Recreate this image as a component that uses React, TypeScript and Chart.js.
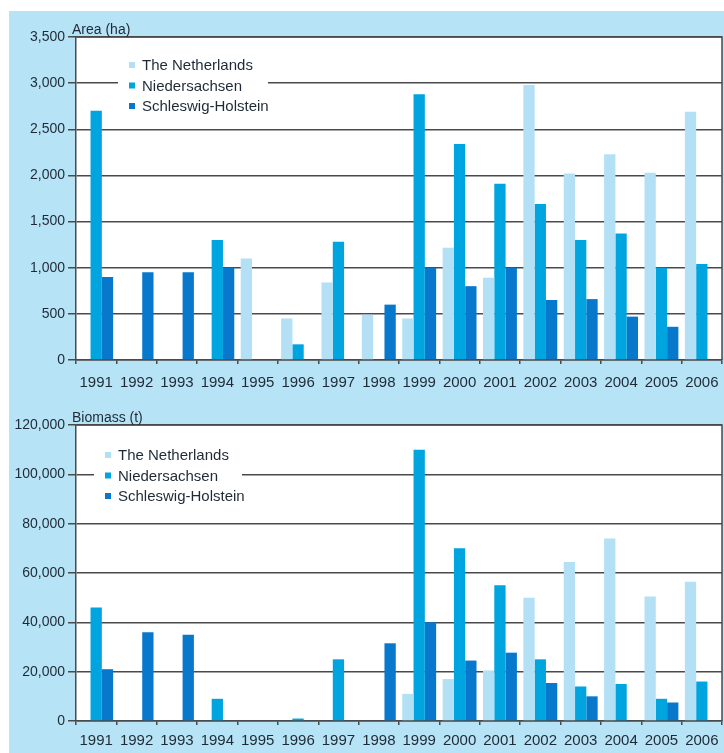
import React, { useEffect, useRef } from "react";
import { Chart, registerables } from "chart.js";

Chart.register(...registerables);

const years = ["1991","1992","1993","1994","1995","1996","1997","1998","1999","2000","2001","2002","2003","2004","2005","2006"];
const seriesNames = ["The Netherlands", "Niedersachsen", "Schleswig-Holstein"];

const areaNL = [null, null, null, null, 1100, 450, 840, 490, 450, 1215, 890, 2980, 2020, 2230, 2030, 2690];
const areaNI = [2700, null, null, 1300, null, 170, 1280, null, 2880, 2340, 1910, 1690, 1300, 1370, 1000, 1040];
const areaSH = [900, 950, 950, 1000, null, null, null, 600, 1000, 800, 1000, 650, 660, 470, 360, null];

const bioNL = [null, null, null, null, null, null, null, null, 11000, 17000, 20500, 50000, 64500, 74000, 50500, 56500];
const bioNI = [46000, null, null, 9000, null, 1000, 25000, null, 110000, 70000, 55000, 25000, 14000, 15000, 9000, 16000];
const bioSH = [21000, 36000, 35000, null, null, null, null, 31500, 40000, 24500, 27700, 15400, 10000, null, 7500, null];

const areaTicks = [0, 500, 1000, 1500, 2000, 2500, 3000, 3500];
const bioTicks = [0, 20000, 40000, 60000, 80000, 100000, 120000];

const COLORS = ["#b3e0f4", "#00a5e0", "#0878cc"];
const BG = "#b6e3f5";
const GRID = "#4a4a4a";
const TEXT = "#1f2a36";
const FONT = "'Liberation Sans', Arial, sans-serif";

type Cfg = {
  nl: (number | null)[];
  ni: (number | null)[];
  sh: (number | null)[];
  ticks: number[];
  title: string;
  height: number;
  padTop: number;
  xHeight: number;
  xPad: number;
  legendX: number;
  legendY: number;
  legendW: number;
};

function BarChart({ cfg }: { cfg: Cfg }) {
  const ref = useRef<HTMLCanvasElement | null>(null);
  useEffect(() => {
    if (!ref.current) return;
    const max = cfg.ticks[cfg.ticks.length - 1];
    const step = cfg.ticks[1] - cfg.ticks[0];
    const framePlugin = {
      id: "frame",
      beforeDraw(chart: any) {
        const { ctx, chartArea: a } = chart;
        ctx.save();
        ctx.fillStyle = "#ffffff";
        ctx.fillRect(a.left, a.top, a.right - a.left, a.bottom - a.top);
        ctx.restore();
      },
      afterDraw(chart: any) {
        const { ctx, chartArea: a } = chart;
        ctx.save();
        ctx.strokeStyle = GRID;
        ctx.lineWidth = 1.5;
        ctx.beginPath();
        ctx.moveTo(a.left, a.top);
        ctx.lineTo(a.right, a.top);
        ctx.lineTo(a.right, a.bottom);
        ctx.stroke();
        ctx.fillStyle = TEXT;
        ctx.font = `14px ${FONT}`;
        ctx.textBaseline = "alphabetic";
        ctx.textAlign = "left";
        ctx.fillText(cfg.title, a.left - 4, a.top - 3);
        const lx = cfg.legendX;
        const ly = cfg.legendY;
        ctx.fillStyle = "#ffffff";
        ctx.fillRect(lx, ly, cfg.legendW, 62);
        seriesNames.forEach((n, i) => {
          const cy = ly + 10 + i * 20.5;
          ctx.fillStyle = COLORS[i];
          ctx.fillRect(lx + 11, cy - 3, 6, 6);
          ctx.fillStyle = TEXT;
          ctx.font = `15px ${FONT}`;
          ctx.textBaseline = "middle";
          ctx.fillText(n, lx + 24, cy + 1);
        });
        ctx.restore();
      },
    };
    const chart = new Chart(ref.current, {
      type: "bar",
      data: {
        labels: years,
        datasets: [
          { label: seriesNames[0], data: cfg.nl, backgroundColor: COLORS[0] },
          { label: seriesNames[1], data: cfg.ni, backgroundColor: COLORS[1] },
          { label: seriesNames[2], data: cfg.sh, backgroundColor: COLORS[2] },
        ],
      },
      options: {
        animation: false,
        responsive: false,
        maintainAspectRatio: false,
        layout: { padding: { top: cfg.padTop, right: 2, left: 0, bottom: 0 } },
        datasets: { bar: { barPercentage: 1.0, categoryPercentage: 0.84 } },
        plugins: { legend: { display: false }, tooltip: { enabled: false }, title: { display: false } },
        scales: {
          x: {
            offset: true,
            grid: { display: true, drawOnChartArea: false, drawTicks: true, tickLength: 4, color: GRID, lineWidth: 1.5, offset: true },
            border: { display: true, color: GRID, width: 1.5 },
            ticks: { color: TEXT, font: { family: FONT, size: 15 }, padding: cfg.xPad, maxRotation: 0, autoSkip: false },
            afterFit: (s: any) => { s.height = cfg.xHeight; s.paddingLeft = 0; s.paddingRight = 0; },
          },
          y: {
            min: 0,
            max,
            afterBuildTicks: (s: any) => { s.ticks = cfg.ticks.map((v) => ({ value: v })); },
            ticks: {
              stepSize: step,
              color: TEXT,
              font: { family: FONT, size: 14 },
              padding: 3,
              callback: (v: any) => Number(v).toLocaleString("en-US"),
            },
            grid: { color: GRID, lineWidth: 1.5, tickLength: 8, drawTicks: true },
            border: { display: true, color: GRID, width: 1.5 },
            afterFit: (s: any) => { s.width = 76; s.paddingTop = 0; s.paddingBottom = 0; },
          },
        },
      },
      plugins: [framePlugin],
    } as any);
    return () => chart.destroy();
  }, [cfg]);
  return <canvas ref={ref} width={724} height={cfg.height} style={{ display: "block", width: 724, height: cfg.height }} />;
}

const topCfg: Cfg = {
  nl: areaNL, ni: areaNI, sh: areaSH, ticks: areaTicks, title: "Area (ha)",
  height: 395, padTop: 37, xHeight: 35, xPad: 10, legendX: 118, legendY: 55, legendW: 150,
};
const bottomCfg: Cfg = {
  nl: bioNL, ni: bioNI, sh: bioSH, ticks: bioTicks, title: "Biomass (t)",
  height: 358, padTop: 30, xHeight: 32, xPad: 7, legendX: 94, legendY: 445 - 395, legendW: 148,
};

export default function App() {
  useEffect(() => {
    document.body.style.margin = "0";
  }, []);
  return (
    <div style={{ position: "relative", width: 724, height: 753, background: "#ffffff", overflow: "hidden" }}>
      <div style={{ position: "absolute", left: 9, top: 11, width: 715, height: 742, background: BG }} />
      <div style={{ position: "absolute", left: 0, top: 0 }}>
        <BarChart cfg={topCfg} />
      </div>
      <div style={{ position: "absolute", left: 0, top: 395 }}>
        <BarChart cfg={bottomCfg} />
      </div>
    </div>
  );
}
